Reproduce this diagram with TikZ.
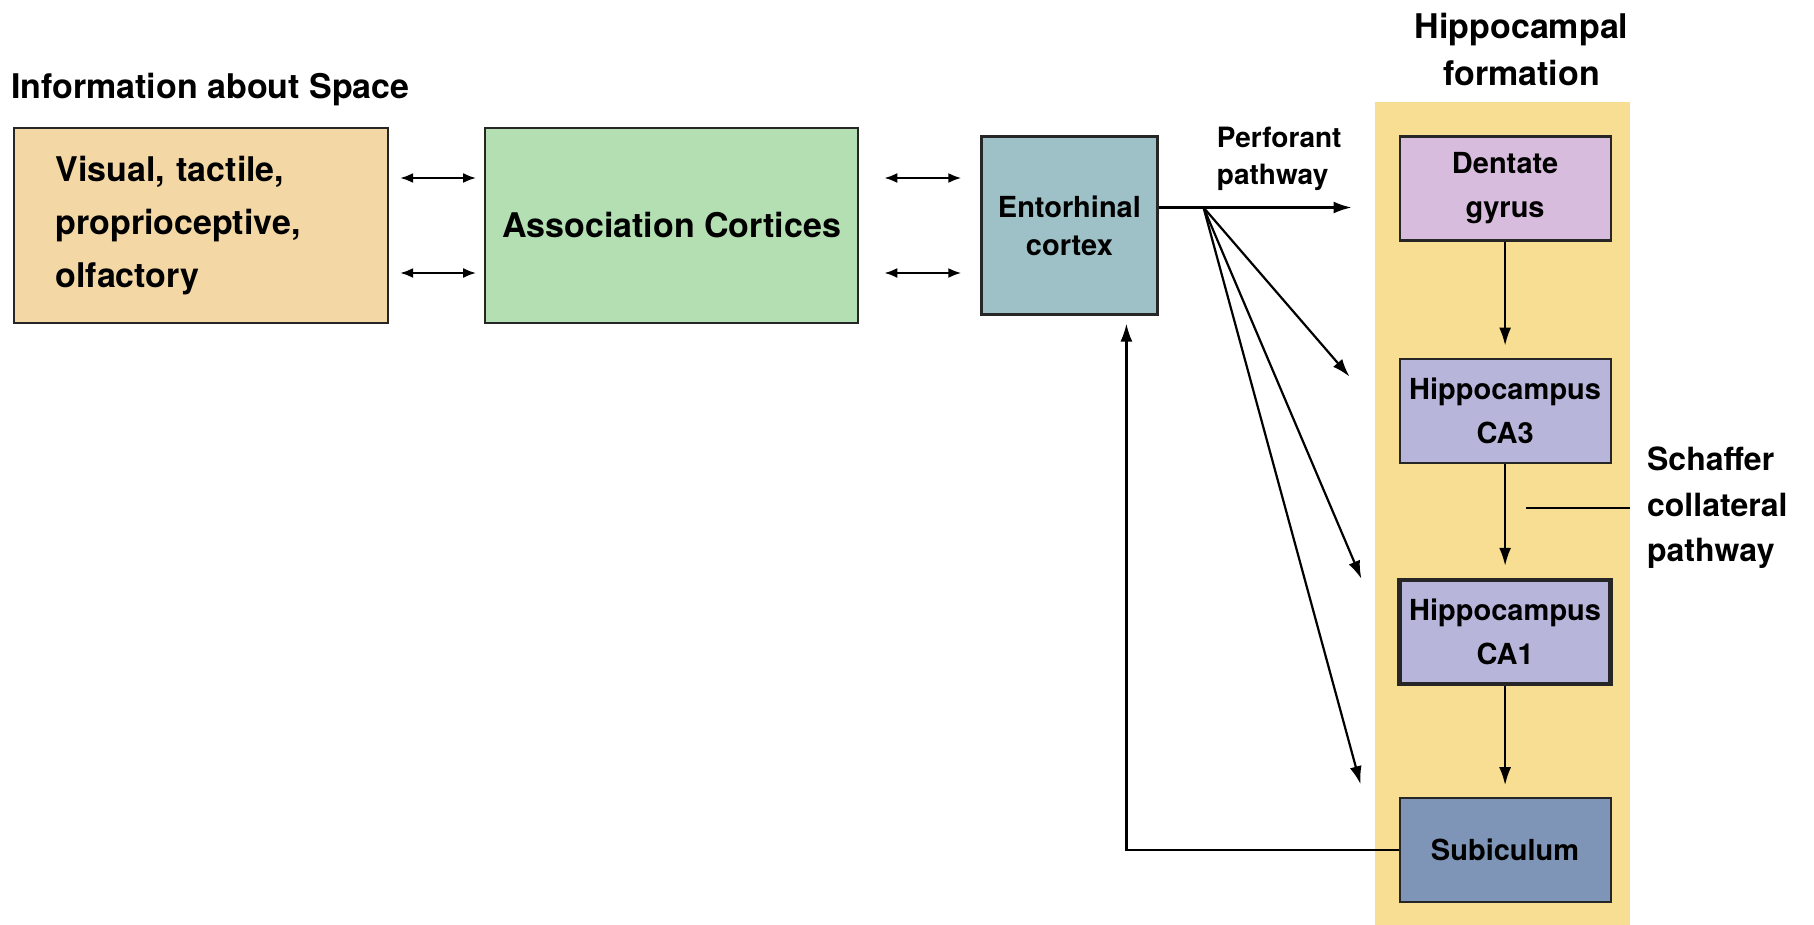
\documentclass[tikz,border=0pt]{standalone}
\usepackage{fontspec}
\setmainfont{TeX Gyre Heros}
\usetikzlibrary{positioning,calc,backgrounds,arrows.meta}

\definecolor{sensfill}{HTML}{F3D8A6}
\definecolor{assocfill}{HTML}{B3DFB2}
\definecolor{entofill}{HTML}{9EC1C7}
\definecolor{bandfill}{HTML}{F8DE93}
\definecolor{dgfill}{HTML}{D8BCDD}
\definecolor{cafill}{HTML}{B7B6DA}
\definecolor{subfill}{HTML}{7F95B8}

\begin{document}
\begin{tikzpicture}[
  >={Latex[length=9pt,width=6pt]},
  box/.style={draw=black!85,line width=1.1pt,minimum height=97.5pt,
    font=\fontsize{17}{26.3}\selectfont\bfseries},
  hbox/.style={draw=black!85,line width=1.1pt,minimum width=105.5pt,minimum height=52pt,
    align=center,font=\fontsize{14.5}{22}\selectfont\bfseries},
  title/.style={inner sep=0pt,font=\fontsize{17}{23.7}\selectfont\bfseries},
  lbl/.style={inner sep=0pt,align=left},
  dbl/.style={<->,>={Latex[length=6.5pt,width=5pt]},line width=1.1pt},
  arr/.style={->,line width=1.1pt}
]

\useasboundingbox (0,0) rectangle (907pt,-462.5pt);
\coordinate (bot) at (0,-462.5pt);

\node[box,fill=sensfill,text width=145.5pt,inner xsep=20.75pt,align=left] (sens) at (100.5pt,-112.75pt) {Visual, tactile,\\proprioceptive,\\olfactory};
\node[box,fill=assocfill,minimum width=186.5pt,right=47.5pt of sens] (assoc) {Association Cortices};
\node[box,fill=entofill,minimum width=88pt,minimum height=89pt,right=60.5pt of assoc,align=center,
  font=\fontsize{14.5}{19}\selectfont\bfseries] (ento) {Entorhinal\\cortex};

\node[hbox,fill=dgfill,anchor=north west] (dg) at ([xshift=120pt]ento.north east) {Dentate\\gyrus};
\node[hbox,fill=cafill,below=58pt of dg] (ca3) {Hippocampus\\CA3};
\node[hbox,fill=cafill,line width=2.2pt,below=57pt of ca3] (ca1) {Hippocampus\\CA1};
\node[hbox,fill=subfill,below=55.5pt of ca1] (sub) {Subiculum};

\node[title,anchor=west] (info) at ([xshift=-1pt,yshift=18.5pt]sens.north west) {Information about Space};
\node[title,align=center,anchor=south] (hf) at ([xshift=8.25pt,yshift=24.5pt]dg.north) {Hippocampal\\formation};

% yellow strip behind the hippocampal boxes
\coordinate (bandnw) at ($(dg.north west)+(-12pt,16.5pt)$);
\coordinate (bandse) at ($(dg.east)+(9pt,0)$);
\begin{scope}[on background layer]
  \fill[bandfill] (bandnw) rectangle (bandse |- bot);
\end{scope}

\draw[dbl] ([xshift=5.5pt,yshift=23.75pt]sens.east) -- ([xshift=-4pt,yshift=23.75pt]assoc.west);
\draw[dbl] ([xshift=5.5pt,yshift=-23.75pt]sens.east) -- ([xshift=-4pt,yshift=-23.75pt]assoc.west);
\draw[dbl] ([xshift=12.5pt,yshift=23.75pt]assoc.east) -- ([xshift=-9.5pt,yshift=23.75pt]assoc.east -| ento.west);
\draw[dbl] ([xshift=12.5pt,yshift=-23.75pt]assoc.east) -- ([xshift=-9.5pt,yshift=-23.75pt]assoc.east -| ento.west);

\coordinate (fan) at ($(ento.east)+(22.5pt,9pt)$);
\coordinate (perfend) at ($(fan -| dg.west)+(-23.5pt,0)$);
\draw[arr] ([yshift=9pt]ento.east) -- (perfend);
\node[lbl,anchor=south west,font=\fontsize{14}{18.5}\selectfont\bfseries] (perf) at ($(fan)+(6.5pt,8pt)$) {Perforant\\pathway};

\draw[arr] (fan) -- ([xshift=-24.5pt,yshift=-9.5pt]ca3.north west);
\draw[arr] (fan) -- ([xshift=-18pt,yshift=-0.5pt]ca1.north west);
\draw[arr] (fan) -- ([xshift=-19pt,yshift=6.5pt]sub.north west);

\draw[arr] (dg) -- ([yshift=6pt]ca3.north);
\draw[arr] (ca3) -- ([yshift=6pt]ca1.north);
\draw[arr] (ca1) -- ([yshift=6pt]sub.north);

\draw[arr] (sub.west) -| ([xshift=28.5pt,yshift=-4pt]ento.south);

\coordinate (sc) at ($(ca3.south)!0.5!(ca1.north)+(10.5pt,6.5pt)$);
\draw[line width=1.1pt] (sc) -- (sc -| bandse);
\node[lbl,anchor=west,font=\fontsize{16}{22.8}\selectfont\bfseries] (schaf) at ($(sc -| bandse)+(8.5pt,0)$) {Schaffer\\collateral\\pathway};

\end{tikzpicture}
\end{document}
